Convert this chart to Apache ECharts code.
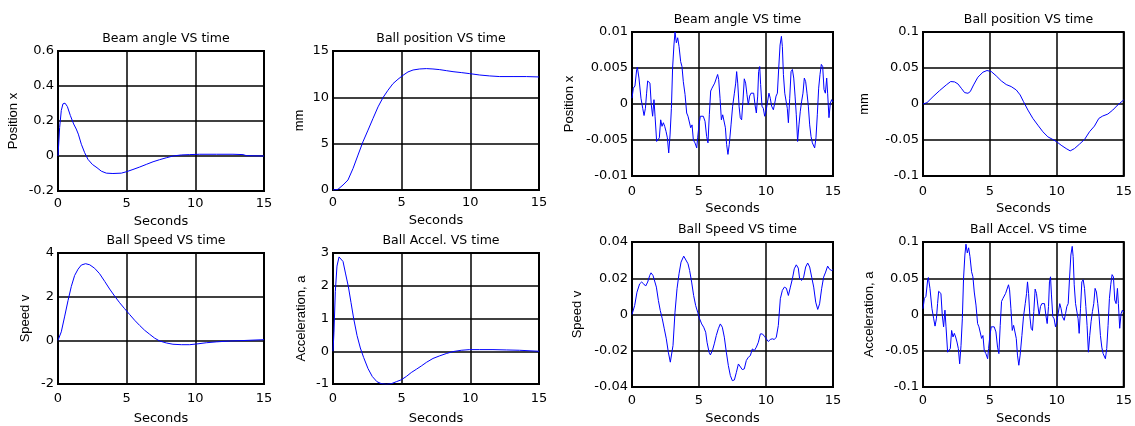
<!DOCTYPE html>
<html>
<head>
<meta charset="utf-8">
<script src="https://cdn.jsdelivr.net/npm/echarts@6/dist/echarts.min.js"></script>
<style>
html, body { margin: 0; padding: 0; background: #fff; }
#chart { width: 1135px; height: 426px; }
</style>
</head>
<body>
<div id="chart"></div>
<script>
// left group: step response
const beamT = [0, 0.12, 0.24, 0.36, 0.51, 0.68, 0.9, 1.14, 1.33, 1.48, 1.7, 1.94, 2.18, 2.5, 2.84, 3.16, 3.52, 4.0, 4.61, 4.98, 5.46, 5.95, 6.43, 6.92, 7.4, 7.89, 8.37, 8.98, 9.59, 10.32, 11.53, 12.74, 13.47, 13.71, 15]
const beamV = [0, 0.163, 0.26, 0.298, 0.302, 0.283, 0.231, 0.183, 0.154, 0.125, 0.067, 0.019, -0.019, -0.048, -0.067, -0.087, -0.098, -0.1, -0.098, -0.09, -0.077, -0.063, -0.048, -0.033, -0.021, -0.01, 0, 0.006, 0.008, 0.01, 0.01, 0.01, 0.008, 0.002, 0]

const posT = [0, 0.36, 0.73, 1.09, 1.46, 1.82, 2.18, 2.55, 2.91, 3.28, 3.64, 4.0, 4.37, 4.73, 5.1, 5.46, 5.83, 6.31, 6.8, 7.28, 7.77, 8.25, 8.74, 9.34, 9.95, 10.68, 11.41, 12.14, 13.11, 14.08, 15]
const posV = [0, 0.07, 0.54, 1.08, 2.33, 3.77, 5.2, 6.46, 7.71, 8.97, 9.97, 10.76, 11.48, 11.95, 12.38, 12.74, 12.95, 13.06, 13.1, 13.06, 12.99, 12.88, 12.77, 12.67, 12.56, 12.41, 12.31, 12.24, 12.24, 12.24, 12.2]

const speedT = [0, 0.24, 0.49, 0.73, 0.97, 1.21, 1.46, 1.7, 2.01, 2.31, 2.67, 3.03, 3.4, 3.76, 4.13, 4.49, 4.85, 5.22, 5.58, 5.95, 6.31, 6.67, 7.04, 7.4, 7.89, 8.37, 8.98, 9.59, 10.19, 10.8, 11.53, 12.5, 13.47, 14.2, 15]
const speedV = [0, 0.39, 1.11, 1.82, 2.47, 2.97, 3.26, 3.45, 3.51, 3.46, 3.3, 3.05, 2.7, 2.35, 2.02, 1.72, 1.45, 1.18, 0.92, 0.68, 0.46, 0.28, 0.1, -0.03, -0.12, -0.18, -0.2, -0.2, -0.16, -0.11, -0.07, -0.03, -0.01, 0.01, 0.03]

const accelT = [0, 0.07, 0.17, 0.29, 0.44, 0.58, 0.73, 0.92, 1.12, 1.31, 1.5, 1.75, 1.99, 2.23, 2.55, 2.86, 3.2, 3.52, 3.88, 4.25, 4.61, 4.98, 5.34, 5.7, 6.07, 6.43, 6.8, 7.28, 7.77, 8.25, 8.74, 9.34, 9.95, 10.68, 11.65, 12.62, 13.59, 15]
const accelV = [0, 0.58, 1.83, 2.6, 2.88, 2.88, 2.74, 2.36, 1.97, 1.49, 1.01, 0.48, 0.1, -0.19, -0.53, -0.77, -0.93, -0.99, -1.01, -0.99, -0.93, -0.87, -0.77, -0.65, -0.55, -0.45, -0.34, -0.22, -0.14, -0.07, -0.01, 0.03, 0.05, 0.05, 0.05, 0.04, 0.03, 0]

// right group: disturbance response
const noiseT = [0, 0.1, 0.22, 0.35, 0.4, 0.52, 0.67, 0.8, 0.9, 1.0, 1.09, 1.17, 1.27, 1.34, 1.44, 1.54, 1.64, 1.72, 1.84, 1.97, 2.04, 2.14, 2.24, 2.34, 2.44, 2.54, 2.64, 2.74, 2.84, 2.94, 3.03, 3.13, 3.21, 3.31, 3.41, 3.51, 3.63, 3.73, 3.83, 3.96, 4.08, 4.18, 4.28, 4.38, 4.48, 4.58, 4.7, 4.83, 4.9, 5.0, 5.1, 5.2, 5.32, 5.45, 5.57, 5.67, 5.77, 5.87, 5.97, 6.07, 6.17, 6.27, 6.39, 6.47, 6.57, 6.67, 6.77, 6.87, 6.97, 7.06, 7.16, 7.26,
  7.39, 7.51, 7.64, 7.74, 7.81, 7.89, 7.99, 8.08, 8.18, 8.28, 8.38, 8.48, 8.58, 8.68, 8.78, 8.88, 8.98, 9.08, 9.18, 9.28, 9.38, 9.45, 9.53, 9.6, 9.7, 9.8, 9.9, 10.0, 10.12, 10.22, 10.32, 10.42, 10.55, 10.65, 10.75, 10.85, 10.95, 11.05, 11.15, 11.22, 11.3, 11.4, 11.5, 11.59, 11.67, 11.77, 11.87, 11.97, 12.07, 12.17, 12.26, 12.36, 12.46, 12.56, 12.66, 12.76, 12.86, 12.96, 13.06, 13.16, 13.26, 13.36, 13.46, 13.56, 13.63, 13.73, 13.83, 13.93, 14.03, 14.13, 14.23, 14.33, 14.43, 14.53, 14.6, 14.7, 14.8, 14.9, 15]
const beamNoiseV = [0.0008, 0.0022, 0.0025, 0.0048, 0.0051, 0.0036, 0.0008, -0.0006, -0.0016, -0.0006, 0.0015, 0.0032, 0.0034, 0.0029, -0.0001, -0.0017, 0.0006, -0.0017, -0.0052, -0.0054, -0.0047, -0.0022, -0.0031, -0.0026, -0.0031, -0.0038, -0.0047, -0.0068, -0.0043, -0.0006, 0.005, 0.0082, 0.01, 0.0085, 0.0092, 0.008, 0.0059, 0.0052, 0.0031, 0.0013, -0.00125, -0.0017, -0.0015, -0.0033, -0.0029, -0.005, -0.0054, -0.0061, -0.0047, -0.0029, -0.0017, -0.0015, -0.0017, -0.0024, -0.0045, -0.0054, -0.0015, 0.0018, 0.0022, 0.0023, 0.0029, 0.0031, 0.0041, 0.0034, 0.0008, -0.0022, -0.0015, -0.0017, -0.0033, -0.0056, -0.007, -0.0056,
  -0.0029, -0.0003, 0.0015, 0.0029, 0.0045, 0.0029, -0.0003, -0.0019, -0.0022, 0.0004, 0.0035, 0.0029, 0.0013, -0.0001, 0.0011, 0.0015, 0.0013, 0.0015, -0.0001, -0.00125, 0.0011, 0.0045, 0.0052, 0.0027, -0.0003, -0.0006, -0.0017, -0.001, -0.0008, 0.0015, 0.0008, -0.0003, -0.0008, 0.0001, 0.0011, 0.0015, 0.005, 0.0082, 0.0094, 0.008, 0.0041, 0.0015, 0.0013, -0.0006, -0.0026, 0.0008, 0.0045, 0.0048, 0.0036, 0.0011, -0.0015, -0.0052, -0.0029, -0.001, 0.0004, 0.0015, 0.0036, 0.0031, 0.0015, -0.0003, -0.0029, -0.0045, -0.0054, -0.0052, -0.0061, -0.0047, -0.0015, 0.0022, 0.0041, 0.0055, 0.0052, 0.002, 0.0015, 0.0036, 0.0015, -0.0019, 0.0001, 0.0006, 0.0003]
const accelNoiseV = [0.008, 0.022, 0.025, 0.048, 0.051, 0.036, 0.008, -0.006, -0.016, -0.006, 0.015, 0.032, 0.034, 0.029, -0.001, -0.017, 0.006, -0.017, -0.052, -0.054, -0.047, -0.022, -0.031, -0.026, -0.031, -0.038, -0.047, -0.068, -0.043, -0.006, 0.05, 0.082, 0.097, 0.085, 0.092, 0.08, 0.059, 0.052, 0.031, 0.013, -0.0125, -0.017, -0.015, -0.033, -0.029, -0.05, -0.054, -0.061, -0.047, -0.029, -0.017, -0.015, -0.017, -0.024, -0.045, -0.054, -0.015, 0.018, 0.022, 0.023, 0.029, 0.031, 0.041, 0.034, 0.008, -0.022, -0.015, -0.017, -0.033, -0.056, -0.07, -0.056,
  -0.029, -0.003, 0.015, 0.029, 0.045, 0.029, -0.003, -0.019, -0.022, 0.004, 0.035, 0.029, 0.013, -0.001, 0.011, 0.015, 0.013, 0.015, -0.001, -0.0125, 0.011, 0.045, 0.052, 0.027, -0.003, -0.006, -0.017, -0.01, -0.008, 0.015, 0.008, -0.003, -0.008, 0.001, 0.011, 0.015, 0.05, 0.082, 0.094, 0.08, 0.041, 0.015, 0.013, -0.006, -0.026, 0.008, 0.045, 0.048, 0.036, 0.011, -0.015, -0.052, -0.029, -0.01, 0.004, 0.015, 0.036, 0.031, 0.015, -0.003, -0.029, -0.045, -0.054, -0.052, -0.061, -0.047, -0.015, 0.022, 0.041, 0.055, 0.052, 0.02, 0.015, 0.036, 0.015, -0.019, 0.001, 0.006, 0.003]

const pos2T = [0, 0.3, 0.75, 1.24, 1.74, 2.07, 2.36, 2.61, 2.86, 3.11, 3.36, 3.53, 3.78, 4.1, 4.48, 4.78, 5.1, 5.47, 5.85, 6.22, 6.59, 6.97, 7.26, 7.51, 7.84, 8.21, 8.58, 8.96, 9.33, 9.7, 10.0, 10.32, 10.7, 11.0, 11.32, 11.69, 12.07, 12.44, 12.81, 13.14, 13.43, 13.81, 14.18, 14.55, 15]
const pos2V = [0, 0.0019, 0.0102, 0.0186, 0.0265, 0.0312, 0.0307, 0.0279, 0.0219, 0.0158, 0.0149, 0.0172, 0.0265, 0.0372, 0.0442, 0.0465, 0.0451, 0.0391, 0.0321, 0.027, 0.0242, 0.0195, 0.0126, 0.0033, -0.0084, -0.02, -0.0293, -0.0386, -0.0456, -0.0493, -0.0526, -0.0572, -0.0619, -0.0651, -0.0619, -0.0558, -0.0493, -0.0386, -0.0307, -0.02, -0.0167, -0.014, -0.0084, -0.0014, 0.0056]

const speed2T = [0, 0.2, 0.37, 0.57, 0.72, 0.87, 1.02, 1.17, 1.32, 1.42, 1.57, 1.69, 1.82, 1.97, 2.11, 2.26, 2.41, 2.56, 2.71, 2.86, 2.96, 3.06, 3.21, 3.36, 3.51, 3.66, 3.86, 4.0, 4.18, 4.3, 4.45, 4.6, 4.75, 4.9, 5.05, 5.2, 5.35, 5.5, 5.6, 5.75, 5.85, 6.0, 6.14, 6.29, 6.44, 6.59, 6.74, 6.89, 7.04, 7.19, 7.34, 7.49, 7.64, 7.79, 7.94, 8.08, 8.23, 8.38, 8.53, 8.68, 8.83, 8.98, 9.13, 9.28, 9.43, 9.58, 9.73, 9.88, 10.02, 10.17, 10.32, 10.47, 10.62, 10.77, 10.92, 11.07, 11.22, 11.37, 11.52, 11.67, 11.82, 11.97, 12.11, 12.26, 12.41, 12.51, 12.66, 12.81, 12.96, 13.11, 13.26, 13.41, 13.56, 13.71, 13.86, 14.0, 14.15, 14.3, 14.45, 14.6, 14.75, 14.9, 15]
const speed2V = [0, 0.005, 0.0123, 0.0169, 0.0179, 0.0169, 0.0157, 0.0179, 0.0215, 0.023, 0.0215, 0.0206, 0.0151, 0.0077, 0.0022, -0.0024, -0.0079, -0.0134, -0.0208, -0.0263, -0.0254, -0.0171, 0.0013, 0.0142, 0.0225, 0.0289, 0.0322, 0.0317, 0.028, 0.0243, 0.0179, 0.0105, 0.005, 0.0013, -0.0024, -0.0052, -0.007, -0.0098, -0.0153, -0.0208, -0.0223, -0.0199, -0.0162, -0.0116, -0.0079, -0.0052, -0.007, -0.0125, -0.0208, -0.0282, -0.0337, -0.0365, -0.0361, -0.0319, -0.0273, -0.0282, -0.0304, -0.03, -0.0254, -0.0236, -0.0227, -0.019, -0.0199, -0.018, -0.0153, -0.0107, -0.0107, -0.012, -0.0134, -0.0149, -0.0138, -0.0134, -0.0138, -0.0125, -0.0061, 0.0087, 0.0133, 0.0151, 0.0145, 0.0105, 0.0151, 0.0197, 0.0252, 0.0274, 0.0256, 0.0197, 0.0188, 0.0206, 0.0262, 0.0284, 0.0262, 0.0206, 0.0151, 0.0068, 0.0028, 0.0059, 0.0142, 0.0206, 0.0234, 0.0267, 0.0249, 0.0243, 0.0247]

// horizontal text in the reference is wide, vertical text is narrow
const wideFont = '"DejaVu Sans", Verdana, sans-serif'
const narrowFont = '"Liberation Sans", Arial, sans-serif'

// box = [left, top, width, height]
const panels = [
  { title: 'Beam angle VS time', yName: 'Position x', t: beamT, v: beamV, yMin: -0.2, yMax: 0.6, yStep: 0.2, box: [58, 51, 206, 140], titleTop: 27, yGap: 38, secGap: 24, xMargin: 6 },
  { title: 'Ball position VS time', yName: 'mm', t: posT, v: posV, yMin: 0, yMax: 15, yStep: 5, box: [333, 51, 206, 139], titleTop: 27, yGap: 27, secGap: 24, xMargin: 6 },
  { title: 'Ball Speed VS time', yName: 'Speed v', t: speedT, v: speedV, yMin: -2, yMax: 4, yStep: 2, box: [58, 253, 206, 139], titleTop: 229, yGap: 26, secGap: 28, xMargin: 8 },
  { title: 'Ball Accel. VS time', yName: 'Acceleration, a', t: accelT, v: accelV, yMin: -1, yMax: 3, yStep: 1, box: [333, 253, 206, 139], titleTop: 229, yGap: 25, secGap: 28, xMargin: 8 },
  { title: 'Beam angle VS time', yName: 'Position x', t: noiseT, v: beamNoiseV, yMin: -0.01, yMax: 0.01, yStep: 0.005, box: [632, 32, 201, 144], titleTop: 8, yGap: 56, secGap: 26, xMargin: 9 },
  { title: 'Ball position VS time', yName: 'mm', t: pos2T, v: pos2V, yMin: -0.1, yMax: 0.1, yStep: 0.05, box: [923, 32, 201, 144], titleTop: 8, yGap: 52, secGap: 26, xMargin: 9 },
  { title: 'Ball Speed VS time', yName: 'Speed v', t: speed2T, v: speed2V, yMin: -0.04, yMax: 0.04, yStep: 0.02, box: [632, 242, 201, 145], titleTop: 218, yGap: 48, secGap: 25, xMargin: 7 },
  { title: 'Ball Accel. VS time', yName: 'Acceleration, a', t: noiseT, v: accelNoiseV, yMin: -0.1, yMax: 0.1, yStep: 0.05, box: [923, 242, 201, 145], titleTop: 218, yGap: 47, secGap: 25, xMargin: 7 },
]

const chart = echarts.init(document.getElementById('chart'))
chart.setOption({
  animation: false,
  backgroundColor: '#fff',
  title: panels.map(p => ({
    text: p.title,
    left: p.box[0] + p.box[2] / 2,
    top: p.titleTop,
    textAlign: 'center',
    textStyle: { color: '#000', fontFamily: wideFont, fontSize: 12.5, fontWeight: 'normal' },
  })),
  grid: panels.map(p => ({
    left: p.box[0], top: p.box[1], width: p.box[2], height: p.box[3],
    show: true, borderColor: '#000', borderWidth: 2, backgroundColor: 'transparent',
  })),
  xAxis: panels.map((p, i) => ({
    gridIndex: i,
    type: 'value',
    min: 0, max: 15, interval: 5,
    name: 'Seconds',
    nameLocation: 'middle',
    nameGap: p.secGap,
    nameTextStyle: { color: '#000', fontFamily: wideFont, fontSize: 13 },
    axisLine: { show: false },
    axisTick: { show: false },
    axisLabel: { color: '#000', fontFamily: wideFont, fontSize: 13, margin: p.xMargin },
    splitLine: { show: true, lineStyle: { color: '#000', width: 1.5 } },
  })),
  yAxis: panels.map((p, i) => ({
    gridIndex: i,
    type: 'value',
    min: p.yMin, max: p.yMax, interval: p.yStep,
    name: p.yName,
    nameLocation: 'middle',
    nameGap: p.yGap,
    nameTextStyle: { color: '#000', fontFamily: narrowFont, fontSize: 13 },
    axisLine: { show: false },
    axisTick: { show: false },
    axisLabel: { color: '#000', fontFamily: wideFont, fontSize: 13, margin: 4 },
    splitLine: { show: true, lineStyle: { color: '#000', width: 1.5 } },
  })),
  series: panels.map((p, i) => ({
    type: 'line',
    xAxisIndex: i,
    yAxisIndex: i,
    data: p.t.map((t, k) => [t, p.v[k]]),
    showSymbol: false,
    symbol: 'none',
    lineStyle: { color: '#0000ff', width: 1 },
  })),
})
</script>
</body>
</html>
